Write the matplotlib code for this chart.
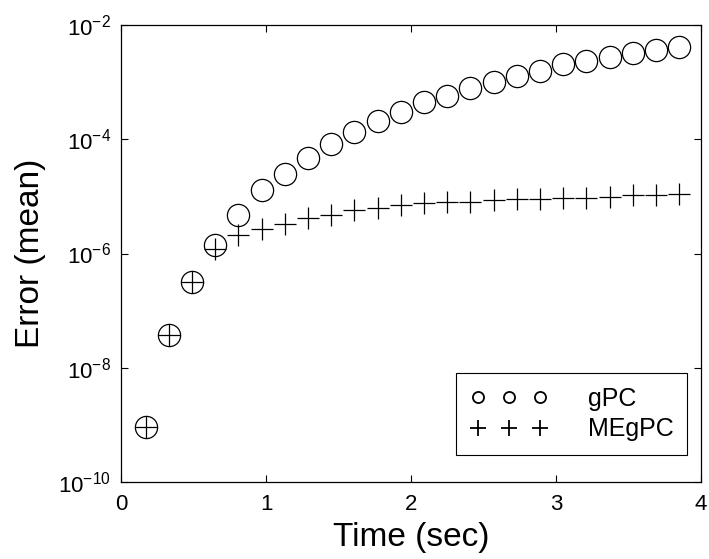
import numpy as np
import matplotlib
matplotlib.use("Agg")
import matplotlib.pyplot as plt
from matplotlib.lines import Line2D

plt.rcParams['font.family'] = ['Liberation Sans', 'DejaVu Sans']
plt.rcParams['mathtext.fontset'] = 'custom'
plt.rcParams['mathtext.rm'] = 'Liberation Sans'
plt.rcParams['mathtext.it'] = 'Liberation Sans'
plt.rcParams['mathtext.default'] = 'regular'

# time samples (sec)
t = [0.17, 0.33, 0.49, 0.65, 0.81, 0.97, 1.13, 1.29, 1.45, 1.61, 1.77, 1.93,
     2.09, 2.25, 2.41, 2.57, 2.73, 2.89, 3.05, 3.21, 3.37, 3.53, 3.69, 3.85]

# mean error, gPC
err_gpc = [9e-10, 3.7e-8, 3.2e-7, 1.4e-6, 4.7e-6, 1.3e-5, 2.5e-5, 4.7e-5,
           8.4e-5, 1.36e-4, 2.1e-4, 3.0e-4, 4.4e-4, 5.8e-4, 7.9e-4, 9.9e-4,
           1.29e-3, 1.58e-3, 2.05e-3, 2.3e-3, 2.7e-3, 3.2e-3, 3.7e-3, 4.2e-3]

# mean error, MEgPC
err_megpc = [9e-10, 3.7e-8, 3.2e-7, 1.2e-6, 2.1e-6, 2.7e-6, 3.3e-6, 4.1e-6,
             4.8e-6, 5.8e-6, 6.3e-6, 7.0e-6, 7.6e-6, 8.0e-6, 8.0e-6, 8.5e-6,
             8.9e-6, 8.9e-6, 9.2e-6, 9.2e-6, 9.9e-6, 1.05e-5, 1.05e-5, 1.12e-5]

yticks = [1e-10, 1e-8, 1e-6, 1e-4, 1e-2]
xticks = [0, 1, 2, 3, 4]

fig = plt.figure(figsize=(7.09, 5.59), dpi=100)
ax = fig.add_axes([121/709, 77/559, 580/709, 457/559])

ax.semilogy(t, err_gpc, 'o', mfc='none', mec='k', ms=16, mew=0.9)
ax.semilogy(t, err_megpc, '+', color='k', ms=16, mew=0.9)

ax.set_xlim(0, 4)
ax.set_ylim(1e-10, 1e-2)
ax.set_xticks(xticks)
ax.set_yticks(yticks)
ax.minorticks_off()
ax.tick_params(direction='in', top=True, right=True, length=5, width=0.8,
               labelsize=16)
ax.tick_params(axis='x', pad=9)
ax.tick_params(axis='y', pad=7)
for s in ax.spines.values():
    s.set_linewidth(0.9)

ax.set_xlabel('Time (sec)', fontsize=24, labelpad=5)
ax.set_ylabel('Error (mean)', fontsize=24, labelpad=9)

h1 = Line2D([], [], ls='none', marker='o', mfc='none', mec='k', ms=8, mew=1.3)
h2 = Line2D([], [], ls='none', marker='+', color='k', ms=11, mew=1.3)
leg = ax.legend([h1, h2], ['gPC', 'MEgPC'], numpoints=3, loc='lower right',
                bbox_to_anchor=(0.976, 0.059), borderaxespad=0, fontsize=18,
                handlelength=3.1, handletextpad=1.6, borderpad=0.55,
                labelspacing=0.25, fancybox=False, edgecolor='k',
                framealpha=1)
leg.get_frame().set_linewidth(0.8)

fig.savefig('out.png', dpi=100)
